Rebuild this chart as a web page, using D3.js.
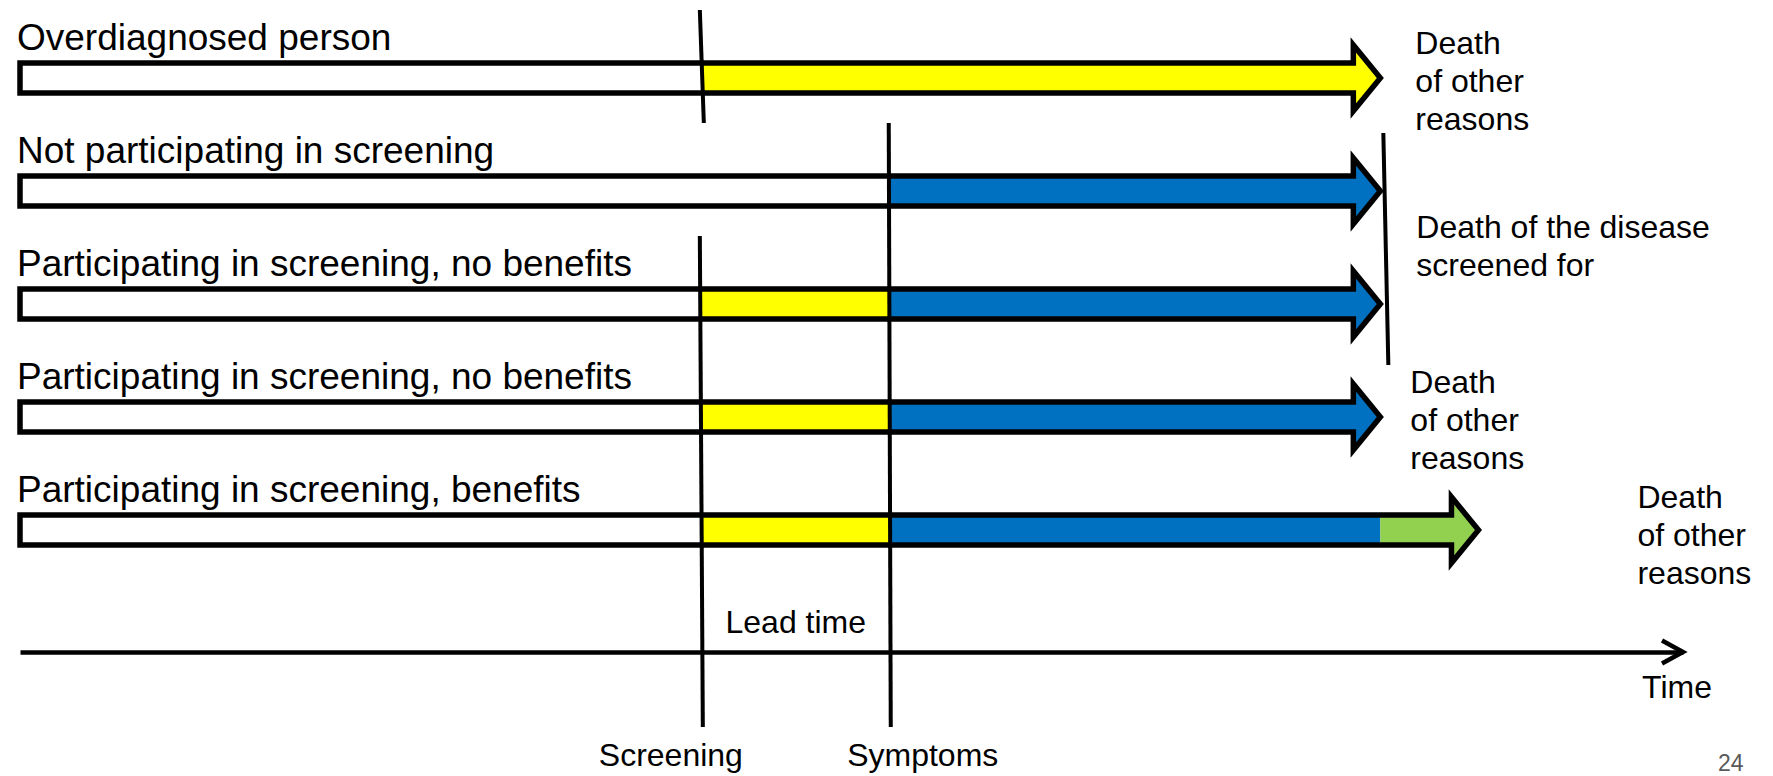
<!DOCTYPE html>
<html>
<head>
<meta charset="utf-8">
<script src="https://cdn.jsdelivr.net/npm/d3@7"></script>
<style>
  html, body { margin: 0; padding: 0; background: #fff; }
  svg { display: block; }
  text { font-family: "Liberation Sans", Arial, Helvetica, sans-serif; fill: #000; }
</style>
</head>
<body>
<svg id="chart" width="1773" height="776"></svg>
<script>
// Scenario rows, top to bottom
const rows = [
  "Overdiagnosed person",
  "Not participating in screening",
  "Participating in screening, no benefits",
  "Participating in screening, no benefits",
  "Participating in screening, benefits"
];

// Event times on the time axis (arbitrary units, 0–100)
const screeningTime = 41.0;
const symptomsTime = 52.3;
const deathTime = 81.8;
const benefitDeathTime = 87.7;

// Disease phases and their colours
const phaseNames = ["healthy", "preclinical", "clinical", "gained"];
const phaseColors = ["#FFFFFF", "#FFFF00", "#0070C0", "#92D050"];

// Phase segments of each row: [start, end, phase]
const rowPhases = [
  [[0, screeningTime, "healthy"], [screeningTime, deathTime, "preclinical"]],
  [[0, symptomsTime, "healthy"], [symptomsTime, deathTime, "clinical"]],
  [[0, screeningTime, "healthy"], [screeningTime, symptomsTime, "preclinical"], [symptomsTime, deathTime, "clinical"]],
  [[0, screeningTime, "healthy"], [screeningTime, symptomsTime, "preclinical"], [symptomsTime, deathTime, "clinical"]],
  [[0, screeningTime, "healthy"], [screeningTime, symptomsTime, "preclinical"], [symptomsTime, deathTime, "clinical"], [deathTime, benefitDeathTime, "gained"]]
];

// Outcome notes beside the arrows
const otherDeathNote = ["Death", "of other", "reasons"];
const diseaseDeathNote = ["Death of the disease", "screened for"];

// Axis labels
const eventLabels = ["Screening", "Symptoms"];
const leadTimeLabel = "Lead time";
const axisLabel = "Time";
const pageNumber = "24";

const svg = d3.select("#chart");
const x = d3.scaleLinear().domain([0, 100]).range([20, 1683]);
const y = d3.scalePoint().domain(d3.range(rows.length)).range([78, 530]);
const color = d3.scaleOrdinal().domain(phaseNames).range(phaseColors);
const axisY = 652;

const barHalf = 15, headHalf = 33, headLen = 27, outline = 5.5;

function arrowPath(x0, x1, cy) {
  const xb = x1 - headLen;
  return `M${x0},${cy - barHalf}L${xb},${cy - barHalf}L${xb},${cy - headHalf}L${x1},${cy}` +
         `L${xb},${cy + headHalf}L${xb},${cy + barHalf}L${x0},${cy + barHalf}Z`;
}

const defs = svg.append("defs");
const bars = svg.append("g");

rowPhases.forEach((segs, i) => {
  const cy = y(i);
  const end = segs[segs.length - 1][1];
  const d = arrowPath(x(0), x(end), cy);
  defs.append("clipPath").attr("id", "row" + i).append("path").attr("d", d);
  const g = bars.append("g");
  g.append("g").attr("clip-path", `url(#row${i})`)
    .selectAll("rect").data(segs).join("rect")
    .attr("x", s => x(s[0]))
    .attr("width", (s, k) => x(s[1]) - x(s[0]) + (k === segs.length - 1 ? 10 : 0))
    .attr("y", cy - headHalf - 6)
    .attr("height", 2 * headHalf + 12)
    .attr("fill", s => color(s[2]));
  g.append("path").attr("d", d)
    .attr("fill", "none").attr("stroke", "#000")
    .attr("stroke-width", outline).attr("stroke-linejoin", "miter").attr("stroke-miterlimit", 10);
});

// Row labels
svg.append("g").selectAll("text").data(rows).join("text")
  .attr("x", 17).attr("y", (d, i) => y(i) - 28)
  .attr("font-size", 37).text(d => d);

// Event markers
const markers = svg.append("g").attr("stroke", "#000").attr("stroke-width", 4).attr("fill", "none");
const lineTop = r => y(r) - 68;
markers.append("line")
  .attr("x1", x(screeningTime) - 2).attr("y1", lineTop(0))
  .attr("x2", x(screeningTime) + 2).attr("y2", y(0) + 45);
markers.append("line")
  .attr("x1", x(screeningTime) - 2).attr("y1", lineTop(2))
  .attr("x2", x(screeningTime) + 1).attr("y2", axisY + 75);
markers.append("line")
  .attr("x1", x(symptomsTime) - 1).attr("y1", lineTop(1))
  .attr("x2", x(symptomsTime) + 1).attr("y2", axisY + 75);
markers.append("line")
  .attr("x1", x(deathTime) + 3).attr("y1", y(1) - 58)
  .attr("x2", x(deathTime) + 8).attr("y2", y(2) + 61);

// Time axis
const axisG = svg.append("g").attr("transform", `translate(0,${axisY})`)
  .call(d3.axisBottom(x).tickValues([]).tickSizeOuter(0));
axisG.select(".domain").attr("stroke", "#000").attr("stroke-width", 4.5);
axisG.append("path")
  .attr("d", `M${x(100) - 21},-11.5L${x(100)},0L${x(100) - 21},11.5`)
  .attr("fill", "none").attr("stroke", "#000").attr("stroke-width", 4.5);

// Outcome notes
function note(lines, x0, y0) {
  const t = svg.append("text").attr("font-size", 32);
  lines.forEach((s, k) => t.append("tspan").attr("x", x0).attr("y", y0 + k * 38).text(s));
}
note(otherDeathNote, x(deathTime) + 35, y(0) - 24);
note(diseaseDeathNote, x(deathTime) + 36, (y(1) + y(2)) / 2 - 10);
note(otherDeathNote, x(deathTime) + 30, y(3) - 24);
note(otherDeathNote, x(benefitDeathTime) + 159, y(4) - 22);

// Axis annotations
svg.append("text").attr("font-size", 32).attr("text-anchor", "middle")
  .attr("x", (x(screeningTime) + x(symptomsTime)) / 2).attr("y", axisY - 19).text(leadTimeLabel);
svg.append("text").attr("font-size", 32).attr("text-anchor", "middle")
  .attr("x", x(screeningTime) - 31).attr("y", 766).text(eventLabels[0]);
svg.append("text").attr("font-size", 32).attr("text-anchor", "middle")
  .attr("x", x(symptomsTime) + 33).attr("y", 766).text(eventLabels[1]);
svg.append("text").attr("font-size", 32).attr("text-anchor", "middle")
  .attr("x", x(100) - 6).attr("y", axisY + 46).text(axisLabel);
svg.append("text").attr("font-size", 23).style("fill", "#595959")
  .attr("x", 1718).attr("y", 771).text(pageNumber);
</script>
</body>
</html>
